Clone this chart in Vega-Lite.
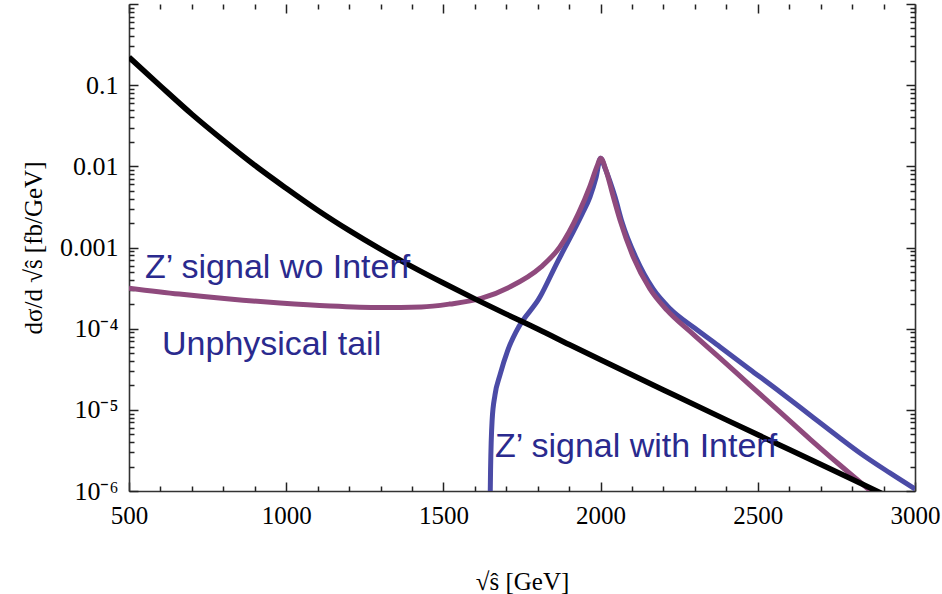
{
  "$schema": "https://vega.github.io/schema/vega-lite/v6.json",
  "width": 786,
  "height": 487,
  "autosize": {"type": "none"},
  "padding": {"left": 129, "top": 4, "right": 27, "bottom": 103},
  "background": "white",
  "config": {
    "view": {"stroke": null},
    "axis": {
      "grid": false,
      "labelFont": "Liberation Serif",
      "titleFont": "Liberation Serif",
      "labelColor": "#000000",
      "titleColor": "#000000",
      "tickColor": "#222222",
      "domainColor": "#333333",
      "domainWidth": 1.6,
      "tickWidth": 1.5,
      "labelFontSize": 25,
      "titleFontSize": 25,
      "titleFontWeight": "normal",
      "labelOverlap": false,
      "labelFlush": false
    }
  },
  "datasets": {
    "curves": [
      {"series": "bg", "m": 500, "v": 0.2213},
      {"series": "bg", "m": 600, "v": 0.0977},
      {"series": "bg", "m": 700, "v": 0.04385},
      {"series": "bg", "m": 800, "v": 0.02089},
      {"series": "bg", "m": 900, "v": 0.0103},
      {"series": "bg", "m": 1000, "v": 0.00537},
      {"series": "bg", "m": 1100, "v": 0.002877},
      {"series": "bg", "m": 1200, "v": 0.001622},
      {"series": "bg", "m": 1300, "v": 0.000953},
      {"series": "bg", "m": 1400, "v": 0.000582},
      {"series": "bg", "m": 1500, "v": 0.000365},
      {"series": "bg", "m": 1600, "v": 0.000233},
      {"series": "bg", "m": 1700, "v": 0.000151},
      {"series": "bg", "m": 1800, "v": 0.0000991},
      {"series": "bg", "m": 1900, "v": 0.0000638},
      {"series": "bg", "m": 2000, "v": 0.0000413},
      {"series": "bg", "m": 2200, "v": 0.0000176},
      {"series": "bg", "m": 2400, "v": 0.00000752},
      {"series": "bg", "m": 2600, "v": 0.00000324},
      {"series": "bg", "m": 2800, "v": 0.0000014},
      {"series": "bg", "m": 2900, "v": 0.00000091},

      {"series": "wo", "m": 500, "v": 0.000316},
      {"series": "wo", "m": 660, "v": 0.000267},
      {"series": "wo", "m": 820, "v": 0.000232},
      {"series": "wo", "m": 980, "v": 0.000207},
      {"series": "wo", "m": 1140, "v": 0.00019},
      {"series": "wo", "m": 1300, "v": 0.000182},
      {"series": "wo", "m": 1430, "v": 0.000185},
      {"series": "wo", "m": 1520, "v": 0.000201},
      {"series": "wo", "m": 1620, "v": 0.000236},
      {"series": "wo", "m": 1710, "v": 0.000325},
      {"series": "wo", "m": 1810, "v": 0.000574},
      {"series": "wo", "m": 1870, "v": 0.00101},
      {"series": "wo", "m": 1930, "v": 0.00265},
      {"series": "wo", "m": 1965, "v": 0.00555},
      {"series": "wo", "m": 1990, "v": 0.01035},
      {"series": "wo", "m": 2000, "v": 0.0126},
      {"series": "wo", "m": 2017, "v": 0.00897},
      {"series": "wo", "m": 2039, "v": 0.00442},
      {"series": "wo", "m": 2062, "v": 0.00217},
      {"series": "wo", "m": 2104, "v": 0.000762},
      {"series": "wo", "m": 2157, "v": 0.000308},
      {"series": "wo", "m": 2211, "v": 0.000169},
      {"series": "wo", "m": 2294, "v": 0.0000857},
      {"series": "wo", "m": 2380, "v": 0.0000434},
      {"series": "wo", "m": 2475, "v": 0.0000202},
      {"series": "wo", "m": 2571, "v": 0.00000939},
      {"series": "wo", "m": 2666, "v": 0.00000437},
      {"series": "wo", "m": 2761, "v": 0.00000209},
      {"series": "wo", "m": 2855, "v": 0.00000103},
      {"series": "wo", "m": 2950, "v": 0.00000051},

      {"series": "with", "m": 1648, "v": 0.0000005},
      {"series": "with", "m": 1650, "v": 0.00000182},
      {"series": "with", "m": 1655, "v": 0.00000748},
      {"series": "with", "m": 1664, "v": 0.0000152},
      {"series": "with", "m": 1680, "v": 0.0000269},
      {"series": "with", "m": 1705, "v": 0.0000545},
      {"series": "with", "m": 1734, "v": 0.000096},
      {"series": "with", "m": 1807, "v": 0.000245},
      {"series": "with", "m": 1861, "v": 0.000643},
      {"series": "with", "m": 1909, "v": 0.00146},
      {"series": "with", "m": 1941, "v": 0.00258},
      {"series": "with", "m": 1966, "v": 0.00418},
      {"series": "with", "m": 1985, "v": 0.00716},
      {"series": "with", "m": 2000, "v": 0.0126},
      {"series": "with", "m": 2015, "v": 0.0093},
      {"series": "with", "m": 2046, "v": 0.00418},
      {"series": "with", "m": 2068, "v": 0.00206},
      {"series": "with", "m": 2113, "v": 0.00074},
      {"series": "with", "m": 2167, "v": 0.000308},
      {"series": "with", "m": 2221, "v": 0.000176},
      {"series": "with", "m": 2300, "v": 0.000101},
      {"series": "with", "m": 2380, "v": 0.0000595},
      {"series": "with", "m": 2475, "v": 0.0000315},
      {"series": "with", "m": 2571, "v": 0.0000166},
      {"series": "with", "m": 2666, "v": 0.00000863},
      {"series": "with", "m": 2761, "v": 0.0000045},
      {"series": "with", "m": 2825, "v": 0.00000294},
      {"series": "with", "m": 2920, "v": 0.00000167},
      {"series": "with", "m": 3000, "v": 0.00000106}
    ],
    "signalNotes": [
      {"m": 551, "v": 0.00042, "label": "Z’ signal wo Interf"},
      {"m": 1664, "v": 0.00000262, "label": "Z’ signal with Interf"}
    ],
    "tailNote": [
      {"m": 605, "v": 0.0000473, "label": "Unphysical tail"}
    ]
  },
  "resolve": {"axis": {"x": "independent", "y": "independent"}},
  "layer": [
    {
      "data": {"name": "curves"},
      "transform": [{"filter": "datum.series === 'with'"}],
      "mark": {"type": "line", "color": "#4b4ba6", "strokeWidth": 5, "strokeJoin": "round", "clip": true, "interpolate": "monotone"},
      "encoding": {
        "x": {
          "field": "m", "type": "quantitative",
          "scale": {"domain": [500, 3000], "nice": false, "zero": false},
          "axis": {
            "orient": "bottom",
            "values": [500, 1000, 1500, 2000, 2500, 3000],
            "format": "d",
            "ticks": false,
            "labelPadding": 12,
            "title": "√ŝ  [GeV]",
            "titleY": 98,
            "titleBaseline": "alphabetic"
          }
        },
        "y": {
          "field": "v", "type": "quantitative",
          "scale": {"type": "log", "domain": [0.000001, 1], "nice": false},
          "axis": {
            "orient": "left",
            "values": [0.000001, 0.00001, 0.0001, 0.001, 0.01, 0.1],
            "labelExpr": "datum.value === 0.1 ? '0.1' : datum.value === 0.01 ? '0.01' : datum.value === 0.001 ? '0.001' : datum.value === 0.0001 ? '10⁻⁴' : datum.value === 0.00001 ? '10⁻⁵' : '10⁻⁶'",
            "labelFontSize": 26,
            "ticks": false,
            "labelPadding": 11,
            "title": "dσ/d √ŝ   [fb/GeV]",
            "titleX": -96,
            "titleY": 243.5,
            "titleAngle": -90,
            "titleAlign": "center",
            "titleBaseline": "middle"
          }
        }
      }
    },
    {
      "data": {"name": "curves"},
      "transform": [{"filter": "datum.series === 'wo'"}],
      "mark": {"type": "line", "color": "#8f4a7d", "strokeWidth": 5, "strokeJoin": "round", "clip": true, "interpolate": "monotone"},
      "encoding": {
        "x": {
          "field": "m", "type": "quantitative",
          "axis": {
            "orient": "top",
            "offset": -487,
            "values": [500, 1000, 1500, 2000, 2500, 3000],
            "labels": false,
            "domain": false,
            "title": null,
            "tickSize": 9
          }
        },
        "y": {
          "field": "v", "type": "quantitative",
          "axis": {
            "orient": "right",
            "offset": -786,
            "values": [0.000001, 0.00001, 0.0001, 0.001, 0.01, 0.1, 1],
            "labels": false,
            "domain": false,
            "title": null,
            "tickSize": 9
          }
        }
      }
    },
    {
      "data": {"name": "curves"},
      "transform": [{"filter": "datum.series === 'bg'"}],
      "mark": {"type": "line", "color": "#000000", "strokeWidth": 5.5, "strokeJoin": "round", "clip": true, "interpolate": "monotone"},
      "encoding": {
        "x": {
          "field": "m", "type": "quantitative",
          "axis": {
            "orient": "bottom",
            "offset": -487,
            "values": [500, 1000, 1500, 2000, 2500, 3000],
            "labels": false,
            "domain": false,
            "title": null,
            "tickSize": 9
          }
        },
        "y": {
          "field": "v", "type": "quantitative",
          "axis": {
            "orient": "left",
            "offset": -786,
            "values": [0.000001, 0.00001, 0.0001, 0.001, 0.01, 0.1, 1],
            "labels": false,
            "domain": true,
            "title": null,
            "tickSize": 9
          }
        }
      }
    },
    {
      "data": {"name": "signalNotes"},
      "mark": {"type": "text", "align": "left", "baseline": "alphabetic", "font": "Liberation Sans", "fontSize": 34, "color": "#2a2a8e"},
      "encoding": {
        "x": {
          "field": "m", "type": "quantitative",
          "axis": {
            "orient": "top",
            "offset": -487,
            "values": [600, 700, 800, 900, 1100, 1200, 1300, 1400, 1600, 1700, 1800, 1900, 2100, 2200, 2300, 2400, 2600, 2700, 2800, 2900],
            "labels": false,
            "domain": false,
            "title": null,
            "tickSize": 5
          }
        },
        "y": {
          "field": "v", "type": "quantitative",
          "axis": {
            "orient": "right",
            "offset": -786,
            "values": [0.000002, 0.000003, 0.000004, 0.000005, 0.000006, 0.000007, 0.000008, 0.000009,
                       0.00002, 0.00003, 0.00004, 0.00005, 0.00006, 0.00007, 0.00008, 0.00009,
                       0.0002, 0.0003, 0.0004, 0.0005, 0.0006, 0.0007, 0.0008, 0.0009,
                       0.002, 0.003, 0.004, 0.005, 0.006, 0.007, 0.008, 0.009,
                       0.02, 0.03, 0.04, 0.05, 0.06, 0.07, 0.08, 0.09,
                       0.2, 0.3, 0.4, 0.5, 0.6, 0.7, 0.8, 0.9],
            "labels": false,
            "domain": false,
            "title": null,
            "tickSize": 5
          }
        },
        "text": {"field": "label"}
      }
    },
    {
      "data": {"name": "tailNote"},
      "mark": {"type": "text", "align": "left", "baseline": "alphabetic", "font": "Liberation Sans", "fontSize": 34, "color": "#2a2a8e"},
      "encoding": {
        "x": {
          "field": "m", "type": "quantitative",
          "axis": {
            "orient": "bottom",
            "offset": -487,
            "values": [600, 700, 800, 900, 1100, 1200, 1300, 1400, 1600, 1700, 1800, 1900, 2100, 2200, 2300, 2400, 2600, 2700, 2800, 2900],
            "labels": false,
            "domain": false,
            "title": null,
            "tickSize": 5
          }
        },
        "y": {
          "field": "v", "type": "quantitative",
          "axis": {
            "orient": "left",
            "offset": -786,
            "values": [0.000002, 0.000003, 0.000004, 0.000005, 0.000006, 0.000007, 0.000008, 0.000009,
                       0.00002, 0.00003, 0.00004, 0.00005, 0.00006, 0.00007, 0.00008, 0.00009,
                       0.0002, 0.0003, 0.0004, 0.0005, 0.0006, 0.0007, 0.0008, 0.0009,
                       0.002, 0.003, 0.004, 0.005, 0.006, 0.007, 0.008, 0.009,
                       0.02, 0.03, 0.04, 0.05, 0.06, 0.07, 0.08, 0.09,
                       0.2, 0.3, 0.4, 0.5, 0.6, 0.7, 0.8, 0.9],
            "labels": false,
            "domain": false,
            "title": null,
            "tickSize": 5
          }
        },
        "text": {"field": "label"}
      }
    }
  ]
}
